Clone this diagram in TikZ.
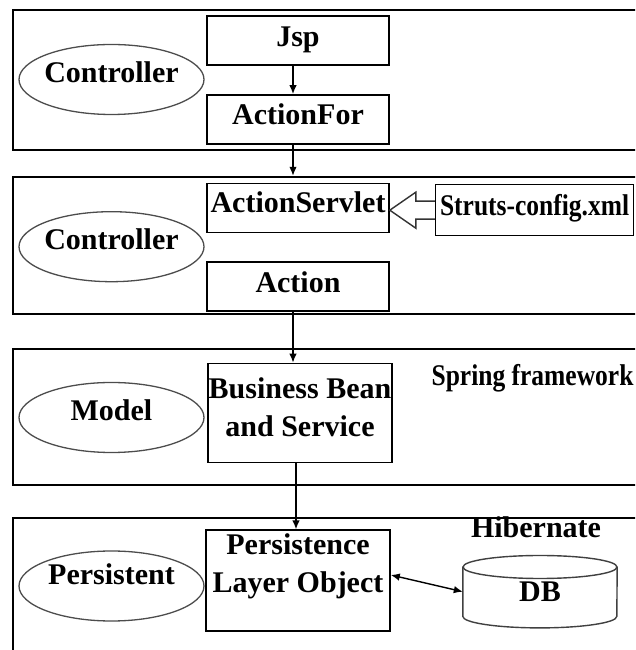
\documentclass[tikz,border=0pt]{standalone}
\usepackage{fontspec}
\setmainfont{Liberation Serif}
\usetikzlibrary{positioning,arrows.meta,shapes.geometric}
\tikzset{
    every node/.style={font=\fontsize{30}{38.5}\selectfont\bfseries},
    layerbox/.style={draw, line width=2pt, minimum width=632pt, inner sep=0pt},
    rectbox/.style={draw, line width=1.6pt, minimum width=182pt, minimum height=49pt, inner xsep=0pt, text height=21pt, text depth=10pt},
    tallbox/.style={rectbox, minimum width=184pt, minimum height=99pt, align=center, text height=59.5pt},
    roleellipse/.style={draw=black!70, ellipse, line width=1.3pt, minimum width=185pt, minimum height=70pt, inner xsep=-4pt, inner ysep=0pt, text height=21pt, text depth=15pt},
    arrow/.style={-{Latex[length=9pt,width=7.5pt]}, line width=1.4pt},
    hollowarrow/.style={line width=1.4pt, black!80},
    dbline/.style={line width=1.4pt, black!75},
}

\begin{document}
\begin{tikzpicture}[x=1pt, y=1pt, node distance=28pt]
\useasboundingbox (0,0) rectangle (635,650);
\clip (0,0) rectangle (635,650);

% the four layers
\node[layerbox, minimum height=140pt] (layerA) at (329,570) {};
\node[layerbox, minimum height=137pt] (layerB) at (329,404.7) {};
\node[layerbox, minimum height=136pt] (layerC) at (329,233) {};
\node[layerbox, minimum height=142pt] (layerD) at (329,61) {};

\node[roleellipse] (ctrlA) at (111.5,570.5) {Controller};
\node[roleellipse] (ctrlB) at (111.5,403.3) {Controller};
\node[roleellipse] (model) at (111.5,232.5) {Model};
\node[roleellipse, text depth=23pt] (persist) at (111.5,64) {Persistent};

\node[rectbox] (jsp) at (298,609.2) {Jsp};
\node[rectbox, below=of jsp] (form) {ActionFor};
\node[rectbox, text depth=13pt] (servlet) at (298,441.8) {ActionServlet};
\node[rectbox, below=of servlet] (action) {Action};
\node[rectbox, minimum width=198pt, minimum height=51pt, right=45pt of servlet, yshift=-2pt] (struts) {\scalebox{0.85}[1]{Struts-config.xml}};

\node[tallbox, text depth=11.5pt] (bean) at (300,237) {Business Bean\\and Service};
\node (spring) at (532.5,272) {\scalebox{0.85}[1]{Spring framework}};

\node[tallbox, text depth=34.5pt] (plo) at (298,69.5) {Persistence\\Layer Object};
\node (hibernate) at (536,123) {Hibernate};
\node[minimum width=154pt, minimum height=72pt, inner sep=0pt] (db) at (540,58.3) {DB};

% database cylinder
\draw[dbline] ([yshift=-11.5pt]db.north west) -- ([yshift=11.5pt]db.south west)
    arc[start angle=180, end angle=360, x radius=77pt, y radius=11.5pt]
    -- ([yshift=-11.5pt]db.north east);
\draw[dbline] ([yshift=-11.5pt]db.north) ellipse [x radius=77pt, y radius=11.5pt];

\draw[arrow] ([xshift=-5pt]jsp.south) -- ([xshift=-5pt]form.north);
\draw[arrow] ([xshift=-5pt]form.south) -- ([xshift=-5pt]form.south |- layerB.north);
\draw[arrow] ([xshift=-5pt]action.south) -- ([xshift=-5pt]action.south |- bean.north);
\draw[arrow] ([xshift=-4pt]bean.south) -- ([xshift=-4pt]bean.south |- plo.north);

% open arrow from the config file
\draw[hollowarrow] ([yshift=9pt]struts.west) -- ++(-19,0) -- ++(0,9) -- ([yshift=-2pt]servlet.east)
    -- ++(26,-18) -- ++(0,9) -- ([yshift=-9pt]struts.west);

\draw[{Latex[length=9pt,width=7.5pt]}-{Latex[length=9pt,width=7.5pt]}, line width=1.4pt] ([yshift=5.5pt]plo.east) -- (db.west);

\end{tikzpicture}
\end{document}
